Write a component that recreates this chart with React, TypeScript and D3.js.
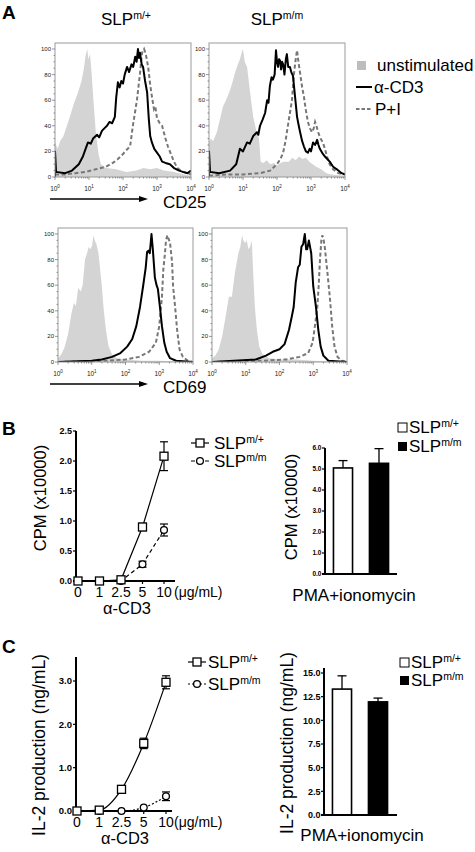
import React from "react";
import * as d3 from "d3";

const FONT = "'Liberation Sans', Arial, Helvetica, sans-serif";
type Pt = [number, number];

// ---------- Panel A: flow histograms, [log10 intensity, % of max] ----------
const cd25HetUnstim: Pt[] = [[0,27],[0.08,22],[0.15,28],[0.25,32],[0.35,40],[0.45,48],[0.55,57],[0.62,62],[0.7,68],[0.78,75],[0.85,85],[0.9,95],[0.95,100],[0.98,92],[1.03,96],[1.08,80],[1.13,60],[1.2,35],[1.28,18],[1.35,10],[1.5,7],[1.8,6],[2.1,4],[2.4,5],[2.6,7],[2.8,6],[3.0,7],[3.2,5],[3.5,4],[3.8,2],[4,1]];
const cd25HetCD3: Pt[] = [[0,0],[0.001,20],[0.03,4],[0.3,3],[0.5,5],[0.7,10],[0.82,16],[0.9,22],[0.97,27],[1.05,26],[1.12,30],[1.24,33],[1.3,31],[1.38,36],[1.45,38],[1.53,40],[1.6,43],[1.68,42],[1.76,47],[1.8,62],[1.85,74],[1.9,70],[1.95,75],[2.0,73],[2.05,80],[2.12,86],[2.18,82],[2.25,88],[2.3,86],[2.36,94],[2.4,90],[2.44,100],[2.47,93],[2.5,97],[2.55,88],[2.59,86],[2.65,75],[2.71,66],[2.76,45],[2.8,32],[2.85,27],[2.92,22],[3.0,19],[3.08,16],[3.15,12],[3.25,11],[3.38,10],[3.5,7],[3.65,5],[3.76,4],[3.9,3],[4,5]];
const cd25HetPI: Pt[] = [[0,2],[0.3,2],[0.6,3],[0.9,4],[1.2,6],[1.5,8],[1.7,11],[1.85,14],[2.0,18],[2.1,21],[2.21,24],[2.29,40],[2.35,50],[2.41,60],[2.5,81],[2.56,97],[2.62,100],[2.67,96],[2.74,86],[2.8,72],[2.85,63],[2.91,53],[2.95,55],[3.0,46],[3.08,42],[3.15,40],[3.25,30],[3.32,24],[3.44,16],[3.5,12],[3.6,7],[3.76,4],[3.9,3],[4,2]];

const cd25MutUnstim: Pt[] = [[0,27],[0.05,30],[0.12,28],[0.23,35],[0.32,45],[0.41,55],[0.5,60],[0.62,68],[0.7,75],[0.76,81],[0.85,88],[0.91,92],[0.97,98],[1.0,100],[1.05,90],[1.12,86],[1.2,68],[1.3,47],[1.4,35],[1.47,30],[1.52,12],[1.6,11],[1.7,13],[1.8,10],[1.9,11],[2.0,9],[2.1,11],[2.2,12],[2.35,12],[2.45,15],[2.55,13],[2.65,16],[2.75,14],[2.85,15],[2.95,12],[3.05,10],[3.15,8],[3.3,6],[3.45,3],[3.6,2],[4,1]];
const cd25MutCD3: Pt[] = [[0,0],[0.001,20],[0.03,4],[0.3,3],[0.62,5],[0.8,10],[0.91,22],[1.0,20],[1.12,27],[1.2,26],[1.3,32],[1.41,35],[1.45,33],[1.5,40],[1.58,45],[1.65,50],[1.71,60],[1.75,58],[1.79,71],[1.84,78],[1.88,76],[1.93,80],[1.97,99],[2.0,90],[2.03,86],[2.06,92],[2.09,91],[2.12,84],[2.15,90],[2.18,88],[2.22,80],[2.26,92],[2.29,96],[2.33,86],[2.38,86],[2.42,82],[2.47,79],[2.53,63],[2.59,47],[2.64,40],[2.68,35],[2.74,28],[2.79,24],[2.85,20],[2.91,19],[2.96,22],[3.0,20],[3.06,27],[3.12,25],[3.18,29],[3.22,25],[3.26,22],[3.35,18],[3.41,16],[3.55,12],[3.65,8],[3.76,6],[3.9,3],[4,2]];
const cd25MutPI: Pt[] = [[0,1],[0.5,2],[1.0,2],[1.5,3],[1.8,5],[2.0,10],[2.1,14],[2.18,19],[2.25,28],[2.32,40],[2.38,50],[2.44,60],[2.5,81],[2.55,92],[2.59,99],[2.63,90],[2.68,81],[2.74,70],[2.79,63],[2.85,52],[2.91,43],[2.97,38],[3.03,35],[3.08,38],[3.12,43],[3.16,40],[3.21,35],[3.28,30],[3.35,27],[3.41,22],[3.47,16],[3.55,10],[3.65,6],[3.8,3],[4,2]];

const cd69HetUnstim: Pt[] = [[0,3],[0.1,6],[0.2,12],[0.3,22],[0.4,38],[0.47,46],[0.53,44],[0.6,58],[0.67,55],[0.73,60],[0.8,80],[0.86,85],[0.91,90],[0.96,88],[1.01,91],[1.05,99],[1.09,95],[1.14,92],[1.2,85],[1.25,72],[1.3,59],[1.35,42],[1.42,25],[1.5,12],[1.6,6],[1.75,3],[2.0,2],[2.5,1],[3,1],[4,0]];
const cd69HetCD3: Pt[] = [[0,0],[1.0,1],[1.3,2],[1.6,4],[1.85,7],[2.05,12],[2.2,18],[2.32,28],[2.43,43],[2.52,59],[2.6,74],[2.64,86],[2.68,87],[2.72,85],[2.77,100],[2.81,88],[2.87,66],[2.92,60],[2.96,57],[3.02,43],[3.08,28],[3.15,15],[3.22,8],[3.32,3],[3.5,1],[4,0]];
const cd69HetPI: Pt[] = [[0,0],[1.5,1],[2.0,2],[2.4,4],[2.7,8],[2.9,15],[3.0,28],[3.08,51],[3.12,72],[3.17,85],[3.2,95],[3.24,99],[3.28,96],[3.32,93],[3.38,78],[3.41,59],[3.47,43],[3.53,25],[3.6,10],[3.7,4],[3.85,1],[4,0]];

const cd69MutUnstim: Pt[] = [[0,3],[0.1,5],[0.2,10],[0.3,20],[0.4,35],[0.5,51],[0.59,51],[0.68,70],[0.78,85],[0.84,90],[0.89,99],[0.93,95],[0.98,93],[1.03,95],[1.08,88],[1.13,90],[1.18,95],[1.22,70],[1.27,43],[1.33,25],[1.4,12],[1.5,6],[1.7,3],[2.0,2],[2.5,2],[3,1],[4,0]];
const cd69MutCD3: Pt[] = [[0,0],[1.3,2],[1.6,5],[1.8,8],[2.0,10],[2.15,14],[2.28,25],[2.36,35],[2.42,43],[2.48,62],[2.55,74],[2.6,76],[2.65,90],[2.7,92],[2.75,100],[2.79,88],[2.82,88],[2.87,95],[2.94,85],[3.0,59],[3.08,43],[3.15,25],[3.22,12],[3.3,5],[3.45,1],[4,0]];
const cd69MutPI: Pt[] = [[0,0],[1.5,1],[2.2,2],[2.6,4],[2.85,7],[2.98,15],[3.06,30],[3.12,43],[3.16,59],[3.2,80],[3.24,95],[3.27,99],[3.31,95],[3.34,90],[3.38,80],[3.42,70],[3.5,48],[3.56,28],[3.63,12],[3.72,4],[3.85,1],[4,0]];

const histYTicks = [0, 20, 40, 60, 80, 100];
const histDecades = [0, 1, 2, 3, 4];

// ---------- Panels B & C ----------
const doses = ["0", "1", "2.5", "5", "10"];
const genotypes = ["m/+", "m/m"];

const cpmHet = [0, 0, 0.02, 0.9, 2.08];
const cpmHetErr = [0, 0, 0.02, 0.06, 0.24];
const cpmMut = [0, 0, 0, 0.28, 0.85];
const cpmMutErr = [0, 0, 0, 0.05, 0.1];
const cpmTicks = [0, 0.5, 1, 1.5, 2, 2.5];

const pmaCpm = [5.05, 5.27];
const pmaCpmErr = [0.35, 0.7];
const cpmBarTicks = [0, 1, 2, 3, 4, 5, 6];

const il2Het = [0, 0.02, 0.5, 1.56, 2.97];
const il2HetErr = [0, 0, 0.03, 0.12, 0.15];
const il2Mut = [0, 0, 0, 0.08, 0.34];
const il2MutErr = [0, 0, 0, 0.02, 0.1];
const il2Ticks = [0, 1, 2, 3];

const pmaIl2 = [13.3, 11.95];
const pmaIl2Err = [1.4, 0.4];
const il2BarTicks = [0, 2.5, 5, 7.5, 10, 12.5, 15];

const fmt1 = d3.format(".1f");

function SLP({ x, y, size, sup, anchor }: { x: number; y: number; size: number; sup: string; anchor?: string }) {
  return (
    <text x={x} y={y} fontSize={size} fontFamily={FONT} textAnchor={anchor || "start"}>
      <tspan>SLP</tspan>
      <tspan fontSize={size * 0.62} dy={-size * 0.36}>{sup}</tspan>
    </text>
  );
}

function Hist({ id, left, top, width, height, gray, black, dashed }: any) {
  const xs = d3.scaleLinear().domain([0, 4]).range([left, left + width]);
  const ys = d3.scaleLinear().domain([0, 100]).range([top + height, top + 6]);
  const area = d3.area<Pt>().x((d) => xs(d[0])).y0(ys(0)).y1((d) => ys(d[1]));
  const line = d3.line<Pt>().x((d) => xs(d[0])).y((d) => ys(d[1]));
  const minorY = d3.range(0, 101, 5);
  const minorX: number[] = [];
  for (let dec = 0; dec < 4; dec++) for (let k = 2; k <= 9; k++) minorX.push(dec + Math.log10(k));
  const bottom = top + height;
  return (
    <g>
      <clipPath id={id}>
        <rect x={left} y={top} width={width} height={height} />
      </clipPath>
      <g clipPath={`url(#${id})`}>
        <path d={area(gray) || ""} fill="#d4d4d4" />
        <path d={line(dashed) || ""} fill="none" stroke="#777" strokeWidth={2} strokeDasharray="4 2.5" />
        <path d={line(black) || ""} fill="none" stroke="#000" strokeWidth={2} strokeLinejoin="round" />
      </g>
      <rect x={left} y={top} width={width} height={height} fill="none" stroke="#9a9a9a" strokeWidth={1} />
      {minorY.map((v) => (
        <line key={"my" + v} x1={left - (v % 20 === 0 ? 3 : 1.5)} x2={left} y1={ys(v)} y2={ys(v)} stroke="#555" strokeWidth={0.6} />
      ))}
      {histYTicks.map((v) => (
        <text key={"yt" + v} x={left - 4} y={ys(v) + 2} fontSize={6} fontFamily={FONT} textAnchor="end" fill="#222">{v}</text>
      ))}
      {minorX.map((v, i) => (
        <line key={"mx" + i} x1={xs(v)} x2={xs(v)} y1={bottom} y2={bottom + 1.5} stroke="#555" strokeWidth={0.6} />
      ))}
      {histDecades.map((d) => (
        <g key={"xt" + d}>
          <line x1={xs(d)} x2={xs(d)} y1={bottom} y2={bottom + 3} stroke="#555" strokeWidth={0.6} />
          <text x={xs(d)} y={bottom + 14} fontSize={6.5} fontFamily={FONT} textAnchor="middle" fill="#222">
            <tspan>10</tspan>
            <tspan fontSize={4.5} dy={-3}>{d}</tspan>
          </text>
        </g>
      ))}
    </g>
  );
}

function DoseChart(props: any) {
  const { axisX, y0, yTopVal, axisTop, xRange, xEnd, ticks, tickSize, het, hetErr, mut, mutErr, mutDash, curve, tickY, unitX, xlabelY, xlabelX, ylabel, ylabelX, ylabelY, ylabelSize } = props;
  const ys = d3.scaleLinear().domain([0, yTopVal]).range([y0, props.yTopPx]);
  const xs = d3.scalePoint<string>().domain(doses).range(xRange);
  const lineGen = d3.line<number>().x((_, i) => xs(doses[i]) as number).y((d) => ys(d)).curve(curve);
  const err = (vals: number[], errs: number[], k: string) =>
    vals.map((v, i) =>
      errs[i] > 0.03 ? (
        <g key={k + i}>
          <line x1={xs(doses[i])} x2={xs(doses[i])} y1={ys(v - errs[i])} y2={ys(v + errs[i])} stroke="#000" strokeWidth={1.2} />
          <line x1={(xs(doses[i]) as number) - 4} x2={(xs(doses[i]) as number) + 4} y1={ys(v + errs[i])} y2={ys(v + errs[i])} stroke="#000" strokeWidth={1.2} />
          <line x1={(xs(doses[i]) as number) - 4} x2={(xs(doses[i]) as number) + 4} y1={ys(v - errs[i])} y2={ys(v - errs[i])} stroke="#000" strokeWidth={1.2} />
        </g>
      ) : null
    );
  return (
    <g fontFamily={FONT}>
      <line x1={axisX} x2={axisX} y1={axisTop} y2={y0} stroke="#000" strokeWidth={2} />
      <line x1={axisX - 3} x2={xEnd} y1={y0} y2={y0} stroke="#000" strokeWidth={2} />
      {ticks.map((t: number) => (
        <g key={"t" + t}>
          <line x1={axisX - 3} x2={axisX} y1={ys(t)} y2={ys(t)} stroke="#000" strokeWidth={1.2} />
          <text x={axisX - 4} y={ys(t) + tickSize * 0.36} fontSize={tickSize} fontWeight="bold" textAnchor="end">{fmt1(t)}</text>
        </g>
      ))}
      {doses.map((d) => (
        <g key={"d" + d}>
          <line x1={xs(d)} x2={xs(d)} y1={y0} y2={y0 + 3} stroke="#000" strokeWidth={1.2} />
          <text x={xs(d)} y={tickY} fontSize={14} textAnchor="middle">{d}</text>
        </g>
      ))}
      <text x={unitX} y={tickY} fontSize={14}>(μg/mL)</text>
      <text x={xlabelX} y={xlabelY} fontSize={16.5} textAnchor="middle">α-CD3</text>
      <text transform={`translate(${ylabelX},${ylabelY}) rotate(-90)`} fontSize={ylabelSize} textAnchor="middle">{ylabel}</text>
      {err(het, hetErr, "he")}
      {err(mut, mutErr, "me")}
      <path d={lineGen(het) || ""} fill="none" stroke="#000" strokeWidth={1.2} />
      <path d={lineGen(mut) || ""} fill="none" stroke="#000" strokeWidth={1.2} strokeDasharray={mutDash} />
      {mut.map((v: number, i: number) => (
        <circle key={"c" + i} cx={xs(doses[i])} cy={ys(v)} r={3.4} fill="#fff" stroke="#000" strokeWidth={1.3} />
      ))}
      {het.map((v: number, i: number) => (
        <rect key={"s" + i} x={(xs(doses[i]) as number) - 4} y={ys(v) - 4} width={8} height={8} fill="#fff" stroke="#000" strokeWidth={1.3} />
      ))}
    </g>
  );
}

function DoseLegend({ x, y1, y2, dash, tx }: any) {
  return (
    <g>
      <line x1={x} x2={x + 18} y1={y1} y2={y1} stroke="#000" strokeWidth={1.2} />
      <rect x={x + 5} y={y1 - 4} width={8} height={8} fill="#fff" stroke="#000" strokeWidth={1.3} />
      <SLP x={x + tx} y={y1 + 6} size={17} sup="m/+" />
      <line x1={x} x2={x + 18} y1={y2} y2={y2} stroke="#000" strokeWidth={1.2} strokeDasharray={dash} />
      <circle cx={x + 9} cy={y2} r={3.4} fill="#fff" stroke="#000" strokeWidth={1.3} />
      <SLP x={x + tx} y={y2 + 6} size={17} sup="m/m" />
    </g>
  );
}

function BarChart(props: any) {
  const { axisX, y0, yTopVal, yTopPx, axisTop, xEnd, ticks, tickSize, vals, errs, ylabel, ylabelX, ylabelY, ylabelSize, xlabelX, xlabelY } = props;
  const ys = d3.scaleLinear().domain([0, yTopVal]).range([y0, yTopPx]);
  const xb = d3.scaleBand<string>().domain(genotypes).range([axisX, axisX + 72]).paddingInner(0.47).paddingOuter(0.235);
  return (
    <g fontFamily={FONT}>
      {genotypes.map((g, i) => {
        const x = xb(g) as number;
        const cx = x + xb.bandwidth() / 2;
        return (
          <g key={g}>
            <line x1={cx} x2={cx} y1={ys(vals[i])} y2={ys(vals[i] + errs[i])} stroke="#000" strokeWidth={1.3} />
            <line x1={cx - 4.5} x2={cx + 4.5} y1={ys(vals[i] + errs[i])} y2={ys(vals[i] + errs[i])} stroke="#000" strokeWidth={1.3} />
            <rect x={x} y={ys(vals[i])} width={xb.bandwidth()} height={y0 - ys(vals[i])} fill={i === 0 ? "#fff" : "#000"} stroke="#000" strokeWidth={1.6} />
          </g>
        );
      })}
      <line x1={axisX} x2={axisX} y1={axisTop} y2={y0} stroke="#000" strokeWidth={2} />
      <line x1={axisX - 3} x2={xEnd} y1={y0} y2={y0} stroke="#000" strokeWidth={2} />
      {ticks.map((t: number) => (
        <g key={"t" + t}>
          <line x1={axisX - 3} x2={axisX} y1={ys(t)} y2={ys(t)} stroke="#000" strokeWidth={1.2} />
          <text x={axisX - 3.5} y={ys(t) + tickSize * 0.36} fontSize={tickSize} fontWeight="bold" textAnchor="end">{fmt1(t)}</text>
        </g>
      ))}
      <text transform={`translate(${ylabelX},${ylabelY}) rotate(-90)`} fontSize={ylabelSize} textAnchor="middle">{ylabel}</text>
      <text x={xlabelX} y={xlabelY} fontSize={17} textAnchor="middle">PMA+ionomycin</text>
    </g>
  );
}

function BarLegend({ x, y1, y2 }: any) {
  return (
    <g>
      <rect x={x} y={y1 - 4} width={9} height={9} fill="#fff" stroke="#000" strokeWidth={1} />
      <SLP x={x + 11} y={y1 + 6} size={17} sup="m/+" />
      <rect x={x} y={y2 - 4} width={9} height={9} fill="#000" />
      <SLP x={x + 11} y={y2 + 6} size={17} sup="m/m" />
    </g>
  );
}

function Arrow({ x1, x2, y, label, lx }: any) {
  return (
    <g>
      <line x1={x1} x2={x2 - 6} y1={y} y2={y} stroke="#000" strokeWidth={1.3} />
      <path d={`M${x2},${y} L${x2 - 9},${y - 3} L${x2 - 9},${y + 3} Z`} fill="#000" />
      <text x={lx} y={y + 9} fontSize={17} fontFamily={FONT}>{label}</text>
    </g>
  );
}

export default function App() {
  return (
    <svg width={475} height={852} style={{ position: "absolute", left: 0, top: 0, background: "#fff" }} fontFamily={FONT}>
      <rect width={475} height={852} fill="#fff" />
      {/* Panel A */}
      <text x={2} y={19} fontSize={19} fontWeight="bold">A</text>
      <SLP x={126} y={25} size={17} sup="m/+" anchor="middle" />
      <SLP x={277} y={25} size={17} sup="m/m" anchor="middle" />
      <Hist id="h1" left={55} top={43} width={136} height={134} gray={cd25HetUnstim} black={cd25HetCD3} dashed={cd25HetPI} />
      <Hist id="h2" left={209} top={43} width={136} height={134} gray={cd25MutUnstim} black={cd25MutCD3} dashed={cd25MutPI} />
      <Arrow x1={50} x2={148} y={199} label="CD25" lx={163} />
      <Hist id="h3" left={58} top={228} width={135} height={134} gray={cd69HetUnstim} black={cd69HetCD3} dashed={cd69HetPI} />
      <Hist id="h4" left={212} top={228} width={135} height={134} gray={cd69MutUnstim} black={cd69MutCD3} dashed={cd69MutPI} />
      <Arrow x1={50} x2={148} y={384} label="CD69" lx={163} />
      {/* Panel A legend */}
      <rect x={357} y={61} width={9} height={9} fill="#bdbdbd" />
      <text x={377} y={71} fontSize={17}>unstimulated</text>
      <line x1={356} x2={372} y1={87} y2={87} stroke="#000" strokeWidth={2} />
      <text x={374} y={93} fontSize={17}>α-CD3</text>
      <line x1={356} x2={372} y1={109} y2={109} stroke="#777" strokeWidth={2} strokeDasharray="3.5 2" />
      <text x={375} y={115} fontSize={17}>P+I</text>

      {/* Panel B */}
      <text x={2} y={435} fontSize={19} fontWeight="bold">B</text>
      <DoseChart axisX={76} y0={581} yTopVal={2.5} yTopPx={431} axisTop={431} xRange={[78, 164]} xEnd={175}
        ticks={cpmTicks} tickSize={9} het={cpmHet} hetErr={cpmHetErr} mut={cpmMut} mutErr={cpmMutErr}
        mutDash="4 3" curve={d3.curveLinear} tickY={597} unitX={174} xlabelX={127} xlabelY={614}
        ylabel="CPM (x10000)" ylabelX={46} ylabelY={498} ylabelSize={16.5} />
      <DoseLegend x={191} y1={443} y2={461} dash="4 3" tx={23} />
      <BarChart axisX={325} y0={574} yTopVal={6} yTopPx={448} axisTop={448} xEnd={397} ticks={cpmBarTicks} tickSize={6.5}
        vals={pmaCpm} errs={pmaCpmErr} ylabel="CPM (x10000)" ylabelX={297} ylabelY={507} ylabelSize={16.5} xlabelX={354} xlabelY={601} />
      <BarLegend x={398} y1={427} y2={446} />

      {/* Panel C */}
      <text x={2} y={653} fontSize={19} fontWeight="bold">C</text>
      <DoseChart axisX={76} y0={811} yTopVal={3} yTopPx={681} axisTop={657} xRange={[77, 166]} xEnd={172}
        ticks={il2Ticks} tickSize={9.5} het={il2Het} hetErr={il2HetErr} mut={il2Mut} mutErr={il2MutErr}
        mutDash="2 2" curve={d3.curveMonotoneX} tickY={827} unitX={174} xlabelX={125} xlabelY={844}
        ylabel="IL-2 production (ng/mL)" ylabelX={45} ylabelY={745} ylabelSize={17.5} />
      <DoseLegend x={188} y1={662} y2={684} dash="2 2" tx={20} />
      <BarChart axisX={324} y0={815} yTopVal={15} yTopPx={673} axisTop={668} xEnd={397} ticks={il2BarTicks} tickSize={9}
        vals={pmaIl2} errs={pmaIl2Err} ylabel="IL-2 production (ng/mL)" ylabelX={293} ylabelY={743} ylabelSize={17.5} xlabelX={362} xlabelY={841} />
      <BarLegend x={400} y1={662} y2={680} />
    </svg>
  );
}
